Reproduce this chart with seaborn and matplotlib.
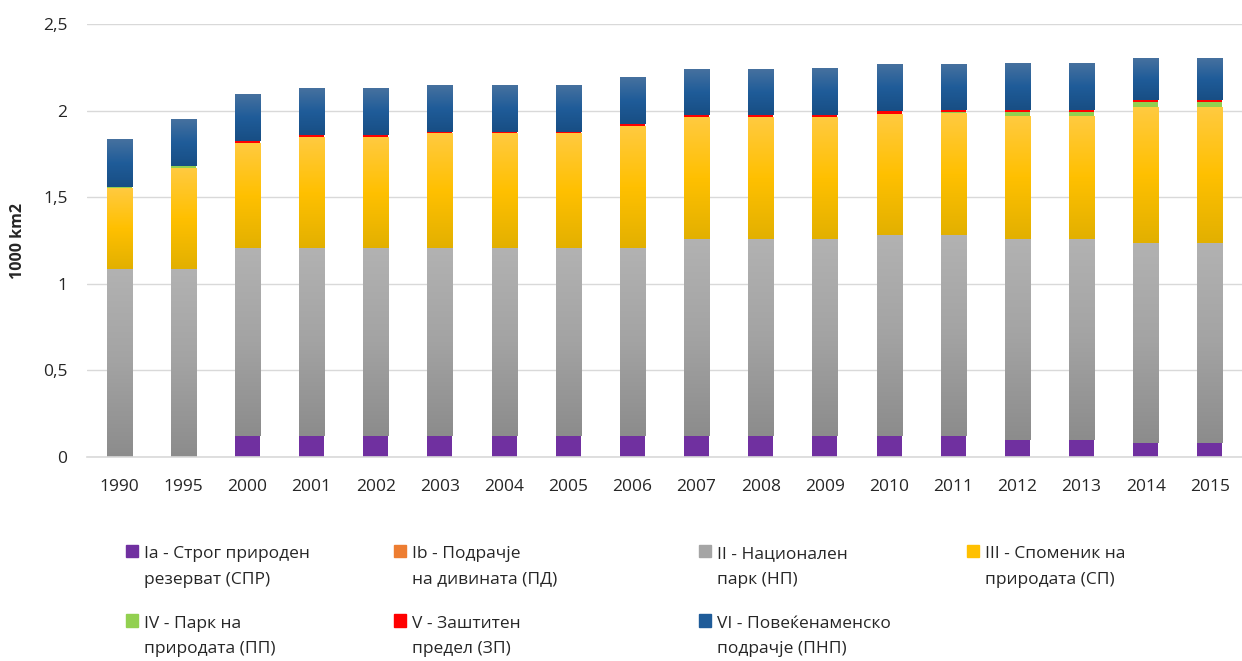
import numpy as np
import pandas as pd
import seaborn as sns
import matplotlib
matplotlib.use("Agg")
from matplotlib import pyplot as plt
from matplotlib.colors import LinearSegmentedColormap

years = ["1990", "1995", "2000", "2001", "2002", "2003", "2004", "2005", "2006",
         "2007", "2008", "2009", "2010", "2011", "2012", "2013", "2014", "2015"]

# 1000 km2 per IUCN category
ia = [0, 0, 0.12, 0.12, 0.12, 0.12, 0.12, 0.12, 0.12,
      0.12, 0.12, 0.12, 0.12, 0.12, 0.10, 0.10, 0.08, 0.08]
ib = [0, 0, 0, 0, 0, 0, 0, 0, 0, 0, 0, 0, 0, 0, 0, 0, 0, 0]
ii = [1.085, 1.085, 1.08, 1.08, 1.08, 1.08, 1.08, 1.08, 1.08,
      1.133, 1.133, 1.133, 1.157, 1.157, 1.157, 1.157, 1.153, 1.153]
iii = [0.465, 0.583, 0.607, 0.645, 0.645, 0.667, 0.667, 0.667, 0.71,
       0.708, 0.708, 0.708, 0.70, 0.71, 0.708, 0.708, 0.781, 0.781]
iv = [0.01, 0.01, 0.004, 0.002, 0.002, 0.002, 0.002, 0.002, 0.002,
      0.002, 0.002, 0.002, 0.006, 0.006, 0.028, 0.028, 0.035, 0.035]
v = [0, 0, 0.012, 0.01, 0.01, 0.01, 0.01, 0.01, 0.01,
     0.01, 0.01, 0.01, 0.012, 0.012, 0.01, 0.01, 0.01, 0.01]
vi = [0.276, 0.266, 0.267, 0.266, 0.266, 0.271, 0.271, 0.271, 0.268,
      0.263, 0.263, 0.271, 0.268, 0.264, 0.266, 0.266, 0.241, 0.241]

labels = ["Ia - Строг природен\nрезерват (СПР)",
          "Ib - Подрачје\nна дивината (ПД)",
          "II - Национален\nпарк (НП)",
          "III - Споменик на\nприродата (СП)",
          "IV - Парк на\nприродата (ПП)",
          "V - Заштитен\nпредел (ЗП)",
          "VI - Повеќенаменско\nподрачје (ПНП)"]
colors = ["#7030a0", "#ed7d31", "#a5a5a5", "#ffc000", "#92d050", "#ff0000", "#1f5c99"]
# top / middle / bottom of the excel-like gradient fills
gradients = {2: ["#b2b2b2", "#a3a3a3", "#8c8c8c"],
             3: ["#ffca40", "#ffc000", "#e2b000"],
             6: ["#46719f", "#1f5c99", "#184e84"]}

ytick_vals = [0, 0.5, 1, 1.5, 2, 2.5]
ytick_labels = ["0", "0,5", "1", "1,5", "2", "2,5"]

sns.set_style("white")
plt.rcParams["font.family"] = ["Open Sans", "DejaVu Sans"]

series = [ia, ib, ii, iii, iv, v, vi]
cum = np.cumsum(np.array(series), axis=0)

fig = plt.figure(figsize=(12.42, 6.61), dpi=100)
ax = fig.add_axes([0.070, 0.3086, 0.93, 0.6551])

bar_w = 0.39
for k in range(len(series) - 1, -1, -1):
    df = pd.DataFrame({"year": years, "val": cum[k]})
    n0 = len(ax.patches)
    sns.barplot(data=df, x="year", y="val", color=colors[k], width=bar_w,
                errorbar=None, saturation=1, ax=ax, linewidth=0)
    new = ax.patches[n0:]
    if k in gradients:
        cmap = LinearSegmentedColormap.from_list("g%d" % k, gradients[k])
        grad = np.linspace(0, 1, 128).reshape(-1, 1)
        for i, p in enumerate(new):
            lo = cum[k - 1][i] if k > 0 else 0
            hi = cum[k][i]
            if hi - lo <= 0:
                continue
            x0 = p.get_x()
            ax.imshow(grad, cmap=cmap, aspect="auto", extent=(x0, x0 + p.get_width(), lo, hi),
                      zorder=1.5, interpolation="bilinear")

handles = [plt.Rectangle((0, 0), 1, 1, color=c) for c in colors]

ax.set_xlim(-0.5, 17.5)
ax.set_ylim(0, 2.5)
ax.set_yticks(ytick_vals)
ax.set_yticklabels(ytick_labels)
ax.yaxis.grid(True, color="#d9d9d9", linewidth=1)
ax.set_axisbelow(True)
for s in ["top", "right", "left"]:
    ax.spines[s].set_visible(False)
ax.spines["bottom"].set_color("#d9d9d9")
ax.spines["bottom"].set_linewidth(1.2)
ax.tick_params(axis="both", length=0, labelsize=12.5, colors="#262626")
ax.tick_params(axis="x", pad=16)
ax.tick_params(axis="y", pad=14)
ax.set_xlabel("")
ax.set_ylabel("1000 km2", fontsize=11.5, fontweight="bold", color="#262626", labelpad=12)

# legend: one column per legend so the columns sit where the reference has them
columns = [[0, 4], [1, 5], [2, 6], [3]]
col_x = [126, 394, 699, 967]
for idx, x in zip(columns, col_x):
    leg = fig.legend([handles[i] for i in idx], [labels[i] for i in idx],
                     loc="upper left", bbox_to_anchor=(x / 1242, 1 - 546 / 661), ncol=1,
                     frameon=False, fontsize=12.5, handlelength=0.7, handleheight=0.7,
                     handletextpad=0.35, labelspacing=1.62, borderpad=0, borderaxespad=0)
    for t in leg.get_texts():
        t.set_linespacing(1.8)
        t.set_color("#262626")
    for h in leg.legend_handles:
        h.set_y(h.get_y() + 11.5)

fig.savefig("out.png", dpi=100, facecolor="white")
